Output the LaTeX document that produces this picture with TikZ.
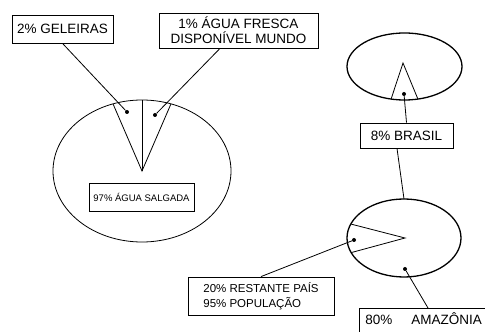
\documentclass[tikz,border=0pt]{standalone}
\usepackage{fontspec}
\setmainfont{Liberation Sans}

\begin{document}
\begin{tikzpicture}[
		x=1pt, y=1pt,
		box/.style={draw, line width=0.8pt, inner sep=0pt, align=center, font=\fontsize{13.5}{15}\selectfont},
		pie/.style={line width=0.8pt},
		piebold/.style={line width=1.3pt},
		lead/.style={line width=0.8pt},
		dot/.style={circle, fill, inner sep=0pt, minimum size=4pt}
		]
		
		\useasboundingbox (0,0) rectangle (485,332);
		\clip (0,0) rectangle (485,332);
		
		% ==========================================
		% WORLD WATER (big pie)
		% ==========================================
		\coordinate (mar) at (142,161);
		\draw[pie] (mar) ellipse (89 and 71);
		\draw[pie] ([shift={(109:89 and 71)}]mar) -- (mar) -- ([shift={(71:89 and 71)}]mar);
		\draw[pie] (mar) -- ([shift={(90:89 and 71)}]mar);
		
		\node[dot] (dgel) at (127,220) {};
		\node[dot] (dfresh) at (155,217) {};
		
		\node[box, minimum width=105pt, minimum height=28pt, font=\fontsize{9.5}{11}\selectfont] (salgada) at (141.5,135) {97\% ÁGUA SALGADA};
		\node[box, minimum width=101pt, minimum height=28pt] (gel) at (62.5,303) {2\% GELEIRAS};
		\node[box, minimum width=159pt, minimum height=35pt] (fresh) at (238.5,301.5) {1\% ÁGUA FRESCA\\DISPONÍVEL MUNDO};
		
		\draw[lead] (gel.south) -- (dgel);
		\draw[lead] ([xshift=-18.5pt]fresh.south) -- (dfresh);
		
		% ==========================================
		% FRESH WATER (top right pie)
		% ==========================================
		\coordinate (doce) at (404.5,265.5);
		\coordinate (brapex) at (403,269);
		\draw[piebold] (doce) ellipse (57.5 and 33.5);
		\draw[pie] ([shift={(256.5:57.5 and 33.5)}]doce) -- (brapex) -- ([shift={(283.5:57.5 and 33.5)}]doce);
		
		\node[dot] (dbr) at (404,238) {};
		\node[box, minimum width=93pt, minimum height=25pt] (brasil) at (406.5,196.5) {8\% BRASIL};
		\draw[lead] (dbr) -- (brasil.north);
		
		% ==========================================
		% BRAZIL (lower right pie)
		% ==========================================
		\coordinate (pais) at (404,94);
		\coordinate (rsapex) at (405,94);
		\draw[piebold] (pais) ellipse (57 and 39);
		\draw[pie] ([shift={(159:57 and 39)}]pais) -- (rsapex) -- ([shift={(202:57 and 39)}]pais);
		\coordinate (paistop) at ([shift={(90:57 and 39)}]pais);
		\draw[lead] ([xshift=-9.5pt]brasil.south) -- (paistop);
		
		\node[dot] (dres) at (354,92) {};
		\node[dot] (damz) at (405,63) {};
		
		\node[box, minimum width=146pt, minimum height=38pt, align=left, font=\fontsize{11.5}{15}\selectfont] (resto) at (261,36) {20\% RESTANTE PAÍS\\95\% POPULAÇÃO};
		\node[box, anchor=north west, text width=128pt, align=left, inner xsep=6pt, inner ysep=6pt, text height=10pt, text depth=8pt] (amazon) at (359,24) {80\%\hspace{19pt}AMAZÔNIA};
		
		\draw[lead] (resto.north) -- (dres);
		\draw[lead] (damz) -- ([xshift=69pt]amazon.north west);
		
	\end{tikzpicture}
\end{document}
